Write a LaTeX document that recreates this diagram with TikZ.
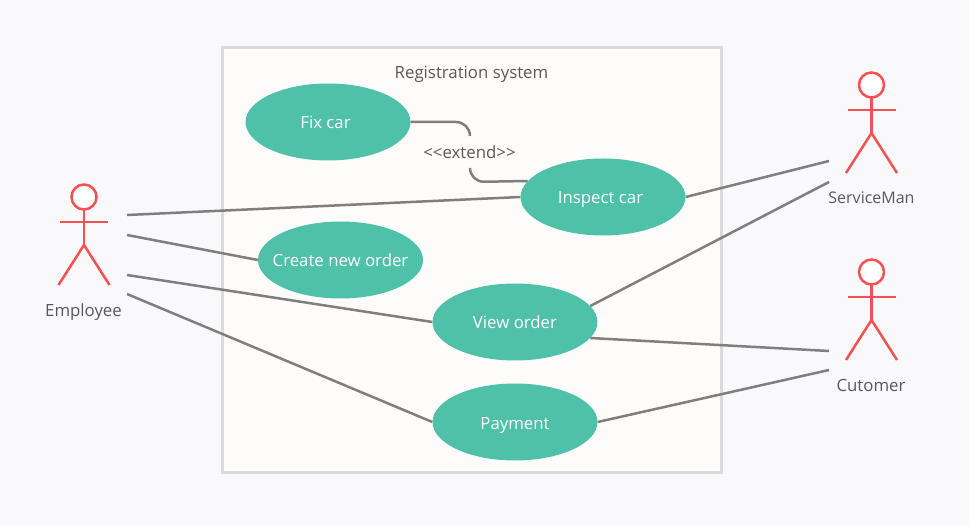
\documentclass[tikz,border=0pt]{standalone}
\usepackage{fontspec}
\setmainfont{Open Sans}
\definecolor{pagebg}{HTML}{F9F9FC}
\definecolor{boxbg}{HTML}{FDFCFA}
\definecolor{boxline}{HTML}{DADADA}
\definecolor{usecase}{HTML}{50C1A9}
\definecolor{actorred}{HTML}{F55151}
\definecolor{linkgray}{HTML}{7F7F7F}
\definecolor{textgray}{HTML}{595959}
\tikzset{
    usecase/.style={ellipse, fill=usecase, text=white, minimum width=165pt, minimum height=77pt, inner sep=0pt, text height=14pt, text depth=0pt, font=\fontsize{16.8}{20}\selectfont},
    link/.style={draw=linkgray, line width=2.5pt},
    caption/.style={text=textgray, inner sep=0pt, text height=13pt, text depth=0pt, font=\fontsize{16.8}{20}\selectfont},
    actor/.pic={
        \draw[actorred, line width=2.5pt, fill=white] (0,0) circle (12.5);
        \draw[actorred, line width=2.5pt] (0,12.5) -- (0,48);
        \draw[actorred, line width=2.5pt] (-24,25) -- (24,25);
        \draw[actorred, line width=2.5pt] (-25.5,88) -- (0,48) -- (25.5,88);
    }
}
\usetikzlibrary{shapes.geometric}
\begin{document}
\begin{tikzpicture}[x=1pt, y=-1pt]
    \useasboundingbox[fill=pagebg] (0,0) rectangle (969,526);
    \draw[draw=boxline, fill=boxbg, line width=3pt] (222,48) rectangle (721,472);
    \node[caption] (title) at (471.5,72) {Registration system};

    \node[usecase] (fix) at (328,122) {\hspace*{-5pt}Fix car};
    \node[usecase] (inspect) at (603,197) {\hspace*{-5pt}Inspect car};
    \node[usecase] (create) at (340.5,260) {\makebox[0pt]{Create new order}};
    \node[usecase] (view) at (515,322) {View order};
    \node[usecase] (payment) at (515,422) {Payment};

    \pic at (84,197) {actor};
    \pic at (871.5,85) {actor};
    \pic at (871.5,272) {actor};
    \node[caption] (employee) at (83.5,310) {Employee};
    \node[caption, font=\fontsize{16}{20}\selectfont] (serviceman) at (871.5,197) {ServiceMan};
    \node[caption] (cutomer) at (871,385) {Cutomer};

    % free ends next to the actors
    \coordinate (e1) at (127,215);
    \coordinate (e2) at (127,235);
    \coordinate (e3) at (127,275);
    \coordinate (e4) at (127,294);
    \coordinate (s1) at (829,161);
    \coordinate (s2) at (829,182);
    \coordinate (c1) at (829,351);
    \coordinate (c2) at (829,370);

    \draw[link] (e1) -- (inspect.west);
    \draw[link] (e2) -- (create.west);
    \draw[link] (e3) -- (view.west);
    \draw[link] (e4) -- (payment.west);
    \draw[link] (s1) -- (inspect.east);
    \draw[link] (s2) -- (view.12);
    \draw[link] (c1) -- (view.-12);
    \draw[link] (c2) -- (payment.east);

    \node[caption] (extend) at (469.5,152) {<{}<extend>{}>};
    \draw[link, rounded corners=14pt] (fix.east) -- (470,122) -- (470,136);
    \draw[link, rounded corners=14pt] (470,168) -- (470,182) -- (inspect.168);
\end{tikzpicture}
\end{document}
